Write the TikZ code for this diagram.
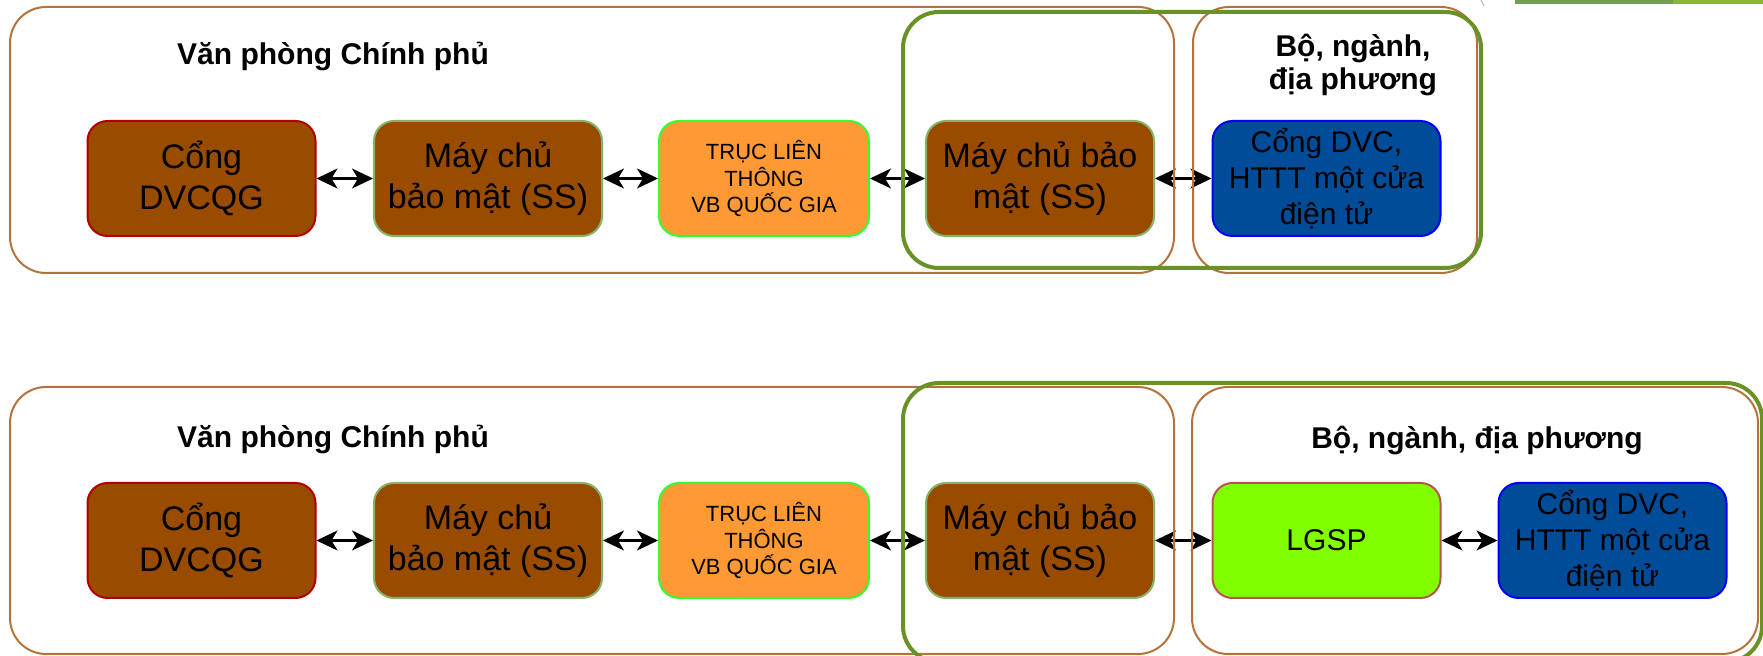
\documentclass[tikz,border=0pt]{standalone}
\usepackage{fontspec}
\setmainfont{Liberation Sans}
\usetikzlibrary{arrows.meta}
\definecolor{brownfill}{RGB}{153,76,0}
\definecolor{congborder}{RGB}{178,0,0}
\definecolor{mayborder}{RGB}{130,179,102}
\definecolor{trucfill}{RGB}{255,153,51}
\definecolor{trucborder}{RGB}{51,255,51}
\definecolor{bluefill}{RGB}{0,76,153}
\definecolor{blueborder}{RGB}{0,0,255}
\definecolor{lgspfill}{RGB}{128,255,0}
\definecolor{lgspborder}{RGB}{184,84,80}
\definecolor{contbrown}{RGB}{181,115,60}
\definecolor{contgreen}{RGB}{104,145,38}
\definecolor{bardark}{RGB}{112,160,80}
\definecolor{barlight}{RGB}{138,184,48}
\tikzset{
  box/.style={rectangle, rounded corners=10pt, line width=1pt, inner sep=0pt,
    minimum width=114pt, minimum height=57.5pt, align=center, text=black},
  bigtext/.style={font=\fontsize{17}{20.4}\selectfont},
  midtext/.style={font=\fontsize{15}{18}\selectfont},
  smalltext/.style={font=\fontsize{11}{13.2}\selectfont},
  brownbox/.style={box, fill=brownfill, draw=mayborder, bigtext},
  congbox/.style={box, fill=brownfill, draw=congborder, bigtext},
  trucbox/.style={box, fill=trucfill, draw=trucborder, smalltext, minimum width=105pt},
  bluebox/.style={box, fill=bluefill, draw=blueborder, midtext},
  lgspbox/.style={box, fill=lgspfill, draw=lgspborder, midtext},
  conn/.style={line width=1.1pt, {Stealth[length=10.5pt,width=10pt,inset=3pt]}-{Stealth[length=10.5pt,width=10pt,inset=3pt]}},
  contb/.style={draw=contbrown, line width=1pt, rounded corners=18pt},
  contg/.style={draw=contgreen, line width=2pt, rounded corners=18pt},
  titletext/.style={font=\bfseries\fontsize{15}{16.5}\selectfont, align=center, anchor=base},
}
\begin{document}
\begin{tikzpicture}[x=0.5pt,y=-0.5pt]
\useasboundingbox (0,0) rectangle (1763,656);
\clip (0,0) rectangle (1763,656);
\fill[white] (0,0) rectangle (1763,656);
% slide artifacts top right
\fill[bardark] (1515,0) rectangle (1673,4);
\fill[barlight] (1673,0) rectangle (1763,4);
\draw[gray!60, line width=0.5pt] (1481,0) -- (1484,6);

% ---------- top row ----------
\node[congbox] (c1) at (201.5,178.5) {Cổng\\DVCQG};
\node[brownbox] (m1) at (488,178.5) {Máy chủ\\bảo mật (SS)};
\node[trucbox] (t1) at (764,178.5) {TRỤC LIÊN\\THÔNG\\VB QUỐC GIA};
\node[brownbox] (m2) at (1040,178.5) {Máy chủ bảo\\mật (SS)};
\node[bluebox] (b1) at (1326.5,178.5) {Cổng DVC,\\HTTT một cửa\\điện tử};

\draw[conn] (c1) -- (m1);
\draw[conn] (m1) -- (t1);
\draw[conn] (t1) -- (m2);
\draw[conn] (m2) -- (b1);

\draw[contb] (10,7) rectangle (1174,273);
\draw[contb] (1193,7) rectangle (1477,273);
\draw[contg] (903,12) rectangle (1481,268);

\node[titletext] (vp1) at (333,65) {Văn phòng Chính phủ};
\node[titletext] (bn1) at (1353,90) {Bộ, ngành,\\địa phương};

% ---------- bottom row ----------
\node[congbox] (c2) at (201.5,540.5) {Cổng\\DVCQG};
\node[brownbox] (m3) at (488,540.5) {Máy chủ\\bảo mật (SS)};
\node[trucbox] (t2) at (764,540.5) {TRỤC LIÊN\\THÔNG\\VB QUỐC GIA};
\node[brownbox] (m4) at (1040,540.5) {Máy chủ bảo\\mật (SS)};
\node[lgspbox] (l2) at (1326.5,540.5) {LGSP};
\node[bluebox] (b2) at (1612.5,540.5) {Cổng DVC,\\HTTT một cửa\\điện tử};

\draw[conn] (c2) -- (m3);
\draw[conn] (m3) -- (t2);
\draw[conn] (t2) -- (m4);
\draw[conn] (m4) -- (l2);
\draw[conn] (l2) -- (b2);

\draw[contb] (10,387) rectangle (1174,654);
\draw[contb] (1192,387) rectangle (1758,654);
\draw[contg] (903,383) rectangle (1762,662);

\node[titletext] (vp2) at (333,448) {Văn phòng Chính phủ};
\node[titletext] (bn2) at (1477,449) {Bộ, ngành, địa phương};
\end{tikzpicture}
\end{document}
